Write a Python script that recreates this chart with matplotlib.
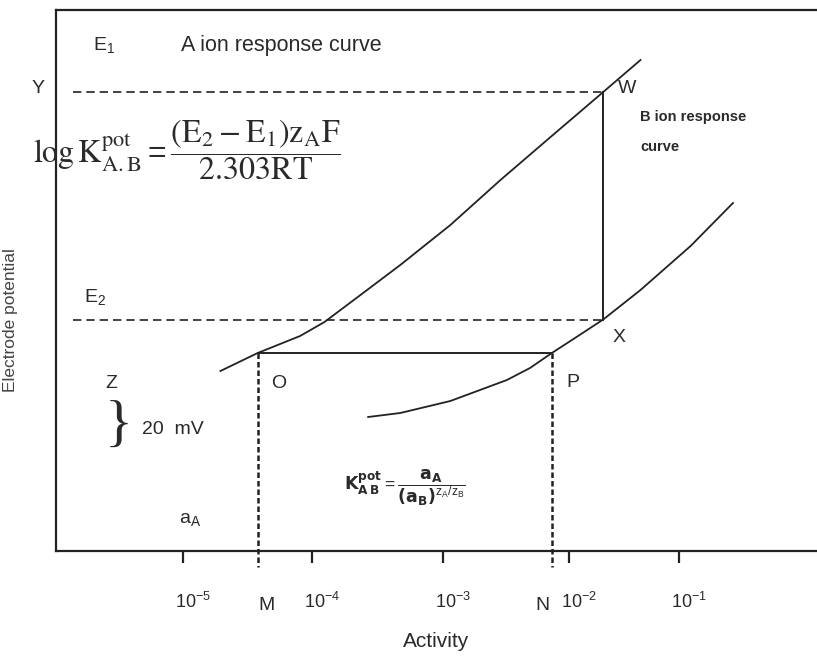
import numpy as np
import matplotlib.pyplot as plt
from matplotlib.transforms import ScaledTranslation

plt.rcParams['font.family'] = ['Liberation Sans', 'DejaVu Sans']
plt.rcParams['mathtext.default'] = 'regular'

# response curves, x = log10(activity), y = electrode potential (mV, arbitrary zero)
a_curve_x = [-4.71, -4.42, -4.09, -3.90, -3.62, -3.31, -2.92, -2.53, -2.14, -1.73, -1.44]
a_curve_y = [72.0, 79.2, 86.0, 91.6, 102.4, 114.4, 130.4, 148.4, 165.6, 183.6, 196.4]
b_curve_x = [-3.56, -3.31, -2.92, -2.48, -2.30, -2.13, -1.95, -1.73, -1.44, -1.05, -0.72]
b_curve_y = [53.6, 55.2, 60.0, 68.4, 73.2, 79.2, 85.2, 92.6, 104.4, 122.0, 139.2]

tick_pos = [-5.0, -4.0, -2.98, -2.0, -1.14]
tick_labels = ['$10^{-5}$', '$10^{-4}$', '$10^{-3}$', '$10^{-2}$', '$10^{-1}$']

# construction points picked off the curves
O = (a_curve_x[1], a_curve_y[1])
P = (b_curve_x[5], b_curve_y[5])
W = (a_curve_x[9], a_curve_y[9])
X = (b_curve_x[7], b_curve_y[7])
x_left = -5.86

ink = '#222222'
txt = '#2a2a2a'

fig = plt.figure(figsize=(8.17, 6.66), dpi=100)
ax = fig.add_axes([56/817, 115/666, 761/817, 541/666])
ax.set_xlim(-5.99, -0.066)
ax.set_ylim(0, 216.4)

ax.plot(a_curve_x, a_curve_y, color=ink, lw=1.3)
ax.plot(b_curve_x, b_curve_y, color=ink, lw=1.3)

# construction lines
ax.plot([x_left, W[0]], [W[1], W[1]], color=ink, lw=1.2, ls=(0, (5, 3)))
ax.plot([x_left, X[0]], [X[1], X[1]], color=ink, lw=1.2, ls=(0, (5, 3)))
ax.plot([W[0], X[0]], [W[1], X[1]], color=ink, lw=1.4)
ax.plot([O[0], P[0]], [O[1], P[1]], color=ink, lw=1.4)
for px in (O[0], P[0]):
    ax.plot([px, px], [O[1], -6.4], color=ink, lw=1.8, ls=(0, (2.2, 1.2)),
            clip_on=False)

# axes frame
ax.spines['right'].set_visible(False)
for s in ('left', 'top', 'bottom'):
    ax.spines[s].set_linewidth(1.6)
    ax.spines[s].set_color(ink)
ax.set_yticks([])
ax.set_xticks(tick_pos)
ax.set_xticklabels(tick_labels, fontsize=13, color=txt)
ax.tick_params(axis='x', direction='out', length=8.5, width=1.6, color=ink, pad=21)
shift = ScaledTranslation(10/100, 0, fig.dpi_scale_trans)
for lab in ax.get_xticklabels():
    lab.set_transform(lab.get_transform() + shift)

ax.set_xlabel('Activity', fontsize=15, color=txt, labelpad=14)
ax.set_ylabel('Electrode potential', fontsize=12.5, color='#444444')
ax.yaxis.set_label_coords(-0.05, 0.427)

# annotations
tk = dict(color=txt, ha='center', va='center')
ax.text(-5.62, 202.4, 'E$_1$', fontsize=14, **tk)
ax.text(-5.02, 202.4, 'A ion response curve', fontsize=15.5, color=txt, ha='left', va='center')
ax.text(-6.13, 185.2, 'Y', fontsize=14, **tk)
ax.text(-1.545, 185.2, 'W', fontsize=14, **tk)
ax.text(-1.44, 173.6, 'B ion response', fontsize=10.5, weight='bold', color=txt, ha='left', va='center')
ax.text(-1.44, 161.6, 'curve', fontsize=10.5, weight='bold', color=txt, ha='left', va='center')
ax.text(-4.97, 160.4,
        r'$\mathrm{log\,K_{A.B}^{pot}} = \dfrac{\mathrm{(E_2 - E_1)z_A F}}{\mathrm{2.303RT}}$',
        fontsize=23, math_fontfamily='stix', **tk)
ax.text(-5.685, 101.6, 'E$_2$', fontsize=14, **tk)
ax.text(-1.607, 85.2, 'X', fontsize=14, **tk)
ax.text(-5.56, 67.2, 'Z', fontsize=14, **tk)
ax.text(-4.26, 67.2, 'O', fontsize=14, **tk)
ax.text(-1.965, 67.6, 'P', fontsize=14, **tk)
ax.text(-5.50, 49.6, '}', fontsize=42, family='Liberation Serif', **tk)
ax.text(-5.32, 48.4, '20  mV', fontsize=14, color=txt, ha='left', va='center')
ax.text(-3.27, 25.2,
        r'$\mathbf{K_{A\,B}^{pot}} = \dfrac{\mathbf{a_A}}{\mathbf{(a_B)}^{z_A/z_B}}$',
        fontsize=12.5, **tk)
ax.text(-4.95, 12.4, 'a$_A$', fontsize=14, **tk)
ax.text(-4.354, -22, 'M', fontsize=14, **tk)
ax.text(-2.20, -22, 'N', fontsize=14, **tk)

fig.savefig('out.png', dpi=100)
